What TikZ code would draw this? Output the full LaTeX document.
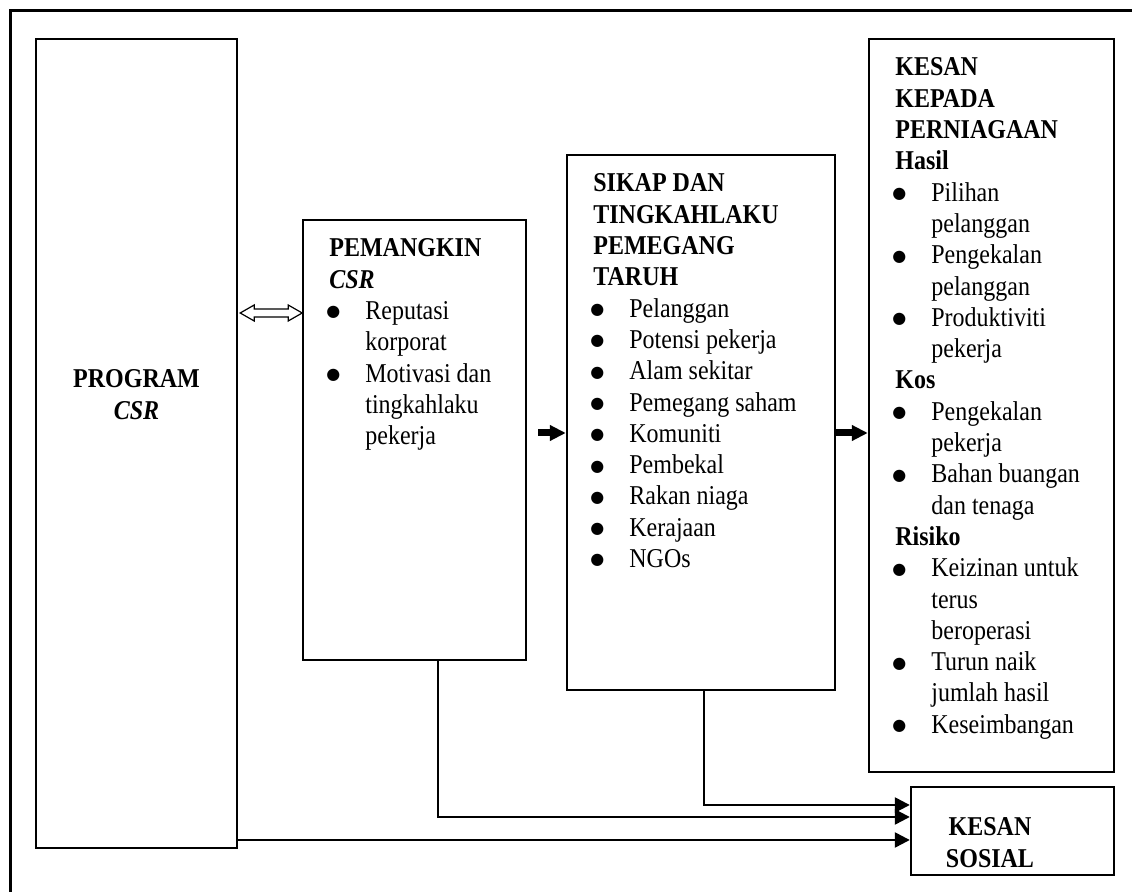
\documentclass[tikz,border=0pt]{standalone}
\usepackage{fontspec}
\setmainfont{Liberation Serif}[FakeStretch=0.882]
\newfontfamily\bulfont{DejaVu Sans}
\usetikzlibrary{arrows.meta,fit,calc}
\newcommand\bulit{\makebox[18pt][l]{\hspace*{-1.5pt}\raisebox{1.3pt}{\bulfont\fontsize{8}{8}\selectfont ●}}}
\newcommand\hind{\hspace*{18pt}}
\begin{document}
\begin{tikzpicture}[x=0.5pt,y=-0.5pt,
  box/.style={draw, line width=1.2pt, inner sep=0pt},
  txt/.style={anchor=base west, inner sep=0pt, font=\fontsize{13.6}{15.65}\selectfont},
  ctxt/.style={anchor=base, inner sep=0pt, font=\fontsize{13.6}{15.65}\selectfont},
  conn/.style={line width=1.2pt, -{Triangle[length=7.5pt,width=7.5pt]}},
  bigarrow/.style={line width=3.5pt, -{Triangle[length=8pt,width=7.5pt]}}]
\useasboundingbox (0,0) rectangle (1132,892);
\draw[line width=1.5pt] (1132,11) -- (10,11) -- (10,892);
% boxes
\node[box, fit={(36,39) (237,848)}] (prog) {};
\node[box, fit={(303,220) (526,660)}] (pem) {};
\node[box, fit={(567,155) (835,690)}] (sik) {};
\node[box, fit={(869,39) (1114,772)}] (kes) {};
\node[box, fit={(911,787) (1114,875)}] (sos) {};
% texts
\node[ctxt] (tprog) at (136.5,388) {\parbox[t]{95pt}{\centering\textbf{PROGRAM}\\\textbf{\textit{CSR}}}};
\node[txt] (tpem) at (329,257) {\parbox[t]{110pt}{\textbf{PEMANGKIN}\\
\textbf{\textit{CSR}}\\
\bulit Reputasi\\
\hind korporat\\
\bulit Motivasi dan\\
\hind tingkahlaku\\
\hind pekerja}};
\node[txt] (tsik) at (593,192) {\parbox[t]{125pt}{\textbf{SIKAP DAN}\\
\textbf{TINGKAHLAKU}\\
\textbf{PEMEGANG}\\
\textbf{TARUH}\\
\bulit Pelanggan\\
\bulit Potensi pekerja\\
\bulit Alam sekitar\\
\bulit Pemegang saham\\
\bulit Komuniti\\
\bulit Pembekal\\
\bulit Rakan niaga\\
\bulit Kerajaan\\
\bulit NGOs}};
\node[txt] (tkes) at (895,76) {\parbox[t]{115pt}{\textbf{KESAN}\\
\textbf{KEPADA}\\
\textbf{PERNIAGAAN}\\
\textbf{Hasil}\\
\bulit Pilihan\\
\hind pelanggan\\
\bulit Pengekalan\\
\hind pelanggan\\
\bulit Produktiviti\\
\hind pekerja\\
\textbf{Kos}\\
\bulit Pengekalan\\
\hind pekerja\\
\bulit Bahan buangan\\
\hind dan tenaga\\
\textbf{Risiko}\\
\bulit Keizinan untuk\\
\hind terus\\
\hind beroperasi\\
\bulit Turun naik\\
\hind jumlah hasil\\
\bulit Keseimbangan}};
\node[ctxt] (tsos) at (990,836) {\parbox[t]{95pt}{\centering\textbf{KESAN}\\\textbf{SOSIAL}}};
% double arrow
\coordinate (yda) at (0,313);
\draw[line width=0.6pt] ($(prog.east|-yda)+(2,0)$) -- ++(14,-8) -- ++(0,4) -- ++(34,0) -- ++(0,-4) -- ++(14,8) -- ++(-14,8) -- ++(0,-4) -- ++(-34,0) -- ++(0,4) -- cycle;
% thick arrows
\coordinate (ya) at (0,433);
\draw[bigarrow] ($(pem.east|-ya)+(11,0)$) -- (sik.west|-ya);
\draw[bigarrow] (sik.east|-ya) -- (kes.west|-ya);
% bottom connectors
\coordinate (x1) at (438,0);
\coordinate (x2) at (704,0);
\coordinate (y1) at (0,817);
\coordinate (y2) at (0,805);
\coordinate (y3) at (0,840);
\draw[conn] (pem.south-|x1) |- (sos.west|-y1);
\draw[conn] (sik.south-|x2) |- (sos.west|-y2);
\draw[conn] (prog.east|-y3) -- (sos.west|-y3);
\end{tikzpicture}
\end{document}
